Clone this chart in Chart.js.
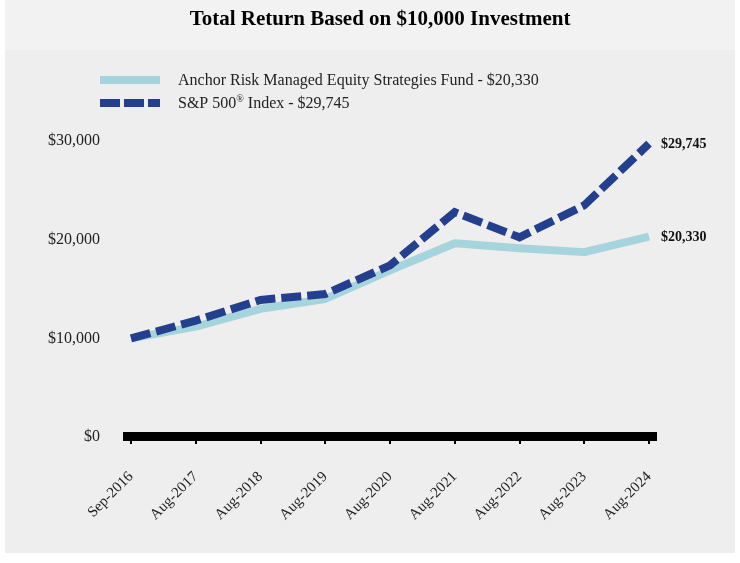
<!DOCTYPE html>
<html>
<head>
<meta charset="utf-8">
<script src="https://cdn.jsdelivr.net/npm/chart.js@4.4.1/dist/chart.umd.min.js"></script>
<style>
  html, body { margin: 0; padding: 0; background: #ffffff; }
  #wrap { width: 740px; height: 563px; position: relative; }
</style>
</head>
<body>
<div id="wrap"><canvas id="chart" width="740" height="563"></canvas></div>
<script>
const labels = ['Sep-2016','Aug-2017','Aug-2018','Aug-2019','Aug-2020','Aug-2021','Aug-2022','Aug-2023','Aug-2024'];
const fundValues = [10000, 11200, 13000, 14000, 16900, 19650, 19150, 18750, 20330];
const spValues = [10000, 11800, 13900, 14500, 17400, 22800, 20250, 23500, 29745];
const fundName = 'Anchor Risk Managed Equity Strategies Fund - $20,330';
const spName = 'S&P 500® Index - $29,745';
const endLabels = ['$20,330', '$29,745'];
const yTicks = [0, 10000, 20000, 30000];

const serif = '"Liberation Serif", "Times New Roman", serif';

// draw text, raising any ® as a small superscript
function drawLabel(c, text, x, y) {
    const parts = text.split('®');
    let cx = x;
    parts.forEach((p, i) => {
        c.font = '16px ' + serif;
        c.fillText(p, cx, y);
        cx += c.measureText(p).width;
        if (i < parts.length - 1) {
            c.font = '10px ' + serif;
            c.fillText('®', cx, y - 5);
            cx += c.measureText('®').width;
        }
    });
}

// backgrounds, thick base axis, legend and end labels
const decor = {
    id: 'decor',
    beforeDraw(chart) {
        const c = chart.ctx;
        c.save();
        c.fillStyle = '#f2f2f2';
        c.fillRect(5, 0, 730, 50);
        c.fillStyle = '#eeeeee';
        c.fillRect(5, 50, 730, 503);
        c.restore();
    },
    afterDatasetsDraw(chart) {
        const c = chart.ctx;
        const a = chart.chartArea;
        c.save();
        // black base bar
        c.fillStyle = '#000';
        c.fillRect(a.left - 8, a.bottom - 5, a.right - a.left + 16, 9);

        // legend
        const ds = chart.data.datasets;
        const rows = [80, 103];
        ds.forEach((d, i) => {
            c.beginPath();
            c.lineWidth = 8;
            c.strokeStyle = d.borderColor;
            c.lineCap = 'butt';
            c.setLineDash(d.borderDash ? [20, 4] : []);
            c.moveTo(100, rows[i]);
            c.lineTo(160, rows[i]);
            c.stroke();
            c.setLineDash([]);
            c.fillStyle = '#222';
            c.textBaseline = 'middle';
            c.textAlign = 'left';
            drawLabel(c, d.label, 178, rows[i] + 1);
        });

        // end labels
        c.font = 'bold 14px ' + serif;
        c.fillStyle = '#111';
        ds.forEach((d, i) => {
            const meta = chart.getDatasetMeta(i);
            const p = meta.data[meta.data.length - 1];
            c.fillText(endLabels[i], p.x + 12, p.y + 1);
        });
        c.restore();
    }
};

new Chart(document.getElementById('chart'), {
    type: 'line',
    data: {
        labels: labels,
        datasets: [
            { label: fundName, data: fundValues, borderColor: '#a6d4dd', borderWidth: 8, pointRadius: 0, tension: 0, clip: false, order: 2, borderJoinStyle: 'round' },
            { label: spName, data: spValues, borderColor: '#243f8e', borderWidth: 8, borderDash: [20, 6], pointRadius: 0, tension: 0, clip: false, order: 1 }
        ]
    },
    options: {
        responsive: false,
        animation: false,
        layout: { padding: { left: 20, right: 0, top: 0, bottom: 0 } },
        plugins: {
            legend: { display: false },
            tooltip: { enabled: false },
            title: {
                display: true,
                text: 'Total Return Based on $10,000 Investment',
                color: '#000',
                font: { family: serif, size: 21, weight: 'bold' },
                padding: { top: 7, bottom: 109 }
            }
        },
        scales: {
            x: {
                offset: false,
                grid: { drawOnChartArea: false, drawTicks: true, tickLength: 7, color: '#000', lineWidth: 2 },
                border: { display: false },
                ticks: { color: '#222', font: { family: serif, size: 15 }, maxRotation: 45, minRotation: 45, padding: 24, autoSkip: false },
                afterFit(s) { s.height = 126; }
            },
            y: {
                min: 0,
                max: 30000,
                afterBuildTicks(s) { s.ticks = yTicks.map(v => ({ value: v })); },
                grid: { display: false },
                border: { display: false },
                ticks: {
                    color: '#222',
                    font: { family: serif, size: 16 },
                    padding: 23,
                    callback: v => '$' + v.toLocaleString('en-US')
                },
                afterFit(s) { s.width = 111; }
            },
            yRight: {
                position: 'right',
                display: true,
                grid: { display: false },
                border: { display: false },
                ticks: { display: false },
                afterFit(s) { s.width = 91; }
            }
        }
    },
    plugins: [decor]
});
</script>
</body>
</html>
